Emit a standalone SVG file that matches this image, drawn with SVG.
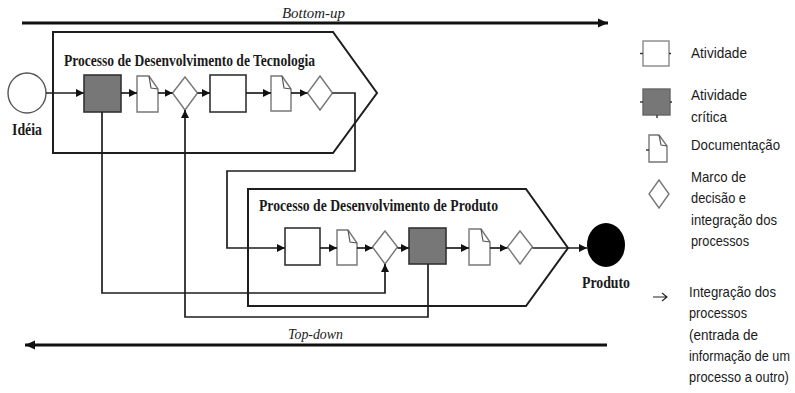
<svg xmlns="http://www.w3.org/2000/svg" width="795" height="393" viewBox="0 0 795 393">
<defs>
<style>
.proc{fill:none;stroke:#1e1e1e;stroke-width:2}
.act{fill:#fff;stroke:#333;stroke-width:1.6}
.crit{fill:#777;stroke:#333;stroke-width:1.6}
.doc{fill:#fff;stroke:#777;stroke-width:1.4}
.fold{fill:none;stroke:#555;stroke-width:1.2}
.dia{fill:#fff;stroke:#777;stroke-width:1.4}
.flow{fill:none;stroke:#1e1e1e;stroke-width:1.7}
.big{fill:none;stroke:#111;stroke-width:2.8}
.title{font-family:"Liberation Serif","Times New Roman",serif;font-weight:bold;font-size:16.5px;fill:#1a1a1a}
.ital{font-family:"Liberation Serif","Times New Roman",serif;font-style:italic;font-size:15px;fill:#222}
.leg{font-family:"Liberation Sans",Arial,sans-serif;font-size:14.5px;fill:#1a1a1a}
.lact{fill:#fff;stroke:#888;stroke-width:1.4}
.lcrit{fill:#777;stroke:#666;stroke-width:1.4}
.tick{stroke:#333;stroke-width:1.4}
</style>
<marker id="ah" viewBox="0 0 10 10" refX="10" refY="5" markerWidth="8" markerHeight="8" markerUnits="userSpaceOnUse" orient="auto">
<path d="M0,0 L10,5 L0,10 Z" fill="#111"/>
</marker>
<marker id="ahb" viewBox="0 0 10 10" refX="10" refY="5" markerWidth="10" markerHeight="10" markerUnits="userSpaceOnUse" orient="auto">
<path d="M0,0.5 L10,5 L0,9.5 Z" fill="#111"/>
</marker>
</defs>

<!-- Bottom-up / Top-down axes -->
<g id="bottom-up">
<line class="big" x1="22" y1="23" x2="608" y2="23" marker-end="url(#ahb)"/>
<text class="ital" x="282" y="18" textLength="63" lengthAdjust="spacingAndGlyphs">Bottom-up</text>
</g>
<g id="top-down">
<line class="big" x1="607" y1="345" x2="25" y2="345" marker-end="url(#ahb)"/>
<text class="ital" x="288" y="339" textLength="55" lengthAdjust="spacingAndGlyphs">Top-down</text>
</g>

<!-- Process containers -->
<g id="proc-tecnologia">
<path class="proc" d="M53,32 H333 L377,93 L333,153 H53 Z"/>
<text class="title" x="64" y="66" textLength="251" lengthAdjust="spacingAndGlyphs">Processo de Desenvolvimento de Tecnologia</text>
</g>
<g id="proc-produto">
<path class="proc" d="M248,189 H526 L568,248 L526,306 H248 Z"/>
<text class="title" x="259" y="211" textLength="239" lengthAdjust="spacingAndGlyphs">Processo de Desenvolvimento de Produto</text>
</g>

<!-- Start / end -->
<g id="ideia">
<ellipse cx="27" cy="93" rx="19" ry="20" fill="#fff" stroke="#555" stroke-width="1.4"/>
<text class="title" x="12" y="135" textLength="30" lengthAdjust="spacingAndGlyphs">Idéia</text>
</g>
<g id="produto">
<ellipse cx="606" cy="245" rx="19" ry="22" fill="#000"/>
<text class="title" x="582" y="288" textLength="48" lengthAdjust="spacingAndGlyphs">Produto</text>
</g>

<!-- Technology process nodes -->
<g id="t-crit"><rect class="crit" x="84" y="75" width="37" height="37"/></g>
<g id="t-doc1"><path class="doc" d="M137,76 H149 L158,89 V112 H137 Z"/><path class="fold" d="M149,76 L151,88 L158,89"/></g>
<g id="t-dia1"><path class="dia" d="M185,77 L197.5,93 L185,110 L172.5,93 Z"/></g>
<g id="t-act"><rect class="act" x="210" y="75" width="36" height="37"/></g>
<g id="t-doc2"><path class="doc" d="M271,76 H282 L291,89 V111 H271 Z"/><path class="fold" d="M282,76 L284,88 L291,89"/></g>
<g id="t-dia2"><path class="dia" d="M320,76 L332.5,93 L320,110 L307.5,93 Z"/></g>

<!-- Product process nodes -->
<g id="p-act"><rect class="act" x="285" y="228" width="35" height="37"/></g>
<g id="p-doc1"><path class="doc" d="M337,230 H348 L357,243 V265 H337 Z"/><path class="fold" d="M348,230 L350,242 L357,243"/></g>
<g id="p-dia1"><path class="dia" d="M385,231 L397.5,247 L385,264 L372.5,247 Z"/></g>
<g id="p-crit"><rect class="crit" x="409" y="228" width="37" height="36"/></g>
<g id="p-doc2"><path class="doc" d="M469,229 H481 L490,242 V265 H469 Z"/><path class="fold" d="M481,229 L483,241 L490,242"/></g>
<g id="p-dia2"><path class="dia" d="M520,231 L532.5,247 L520,264 L507.5,247 Z"/></g>

<!-- Connectors -->
<g id="connectors">
<line class="flow" x1="46" y1="93" x2="84" y2="93" marker-end="url(#ah)"/>
<line class="flow" x1="121" y1="93" x2="137" y2="93" marker-end="url(#ah)"/>
<line class="flow" x1="158" y1="93" x2="172.5" y2="93" marker-end="url(#ah)"/>
<line class="flow" x1="197.5" y1="93" x2="210" y2="93" marker-end="url(#ah)"/>
<line class="flow" x1="246" y1="93" x2="271" y2="93" marker-end="url(#ah)"/>
<line class="flow" x1="291" y1="93" x2="307.5" y2="93" marker-end="url(#ah)"/>
<polyline class="flow" points="332.5,93 355,93 355,171 227,171 227,248 285,248" marker-end="url(#ah)"/>
<line class="flow" x1="320" y1="248" x2="337" y2="248" marker-end="url(#ah)"/>
<line class="flow" x1="357" y1="248" x2="372.5" y2="248" marker-end="url(#ah)"/>
<line class="flow" x1="397.5" y1="248" x2="409" y2="248" marker-end="url(#ah)"/>
<line class="flow" x1="446" y1="248" x2="469" y2="248" marker-end="url(#ah)"/>
<line class="flow" x1="490" y1="248" x2="507.5" y2="248" marker-end="url(#ah)"/>
<polyline class="flow" points="532.5,248 568,248 587,248" marker-end="url(#ah)"/>
<polyline class="flow" points="102,112 102,293 385,293 385,264" marker-end="url(#ah)"/>
<polyline class="flow" points="428,264 428,317 185,317 185,110" marker-end="url(#ah)"/>
</g>

<!-- Legend -->
<g id="legend-atividade">
<rect class="lact" x="643" y="41" width="26" height="25"/>
<line class="tick" x1="640" y1="53.5" x2="643" y2="53.5"/>
<line class="tick" x1="669" y1="53.5" x2="671" y2="53.5"/>
<text class="leg" x="691" y="58" textLength="56" lengthAdjust="spacingAndGlyphs">Atividade</text>
</g>
<g id="legend-critica">
<rect class="lcrit" x="643" y="89" width="27" height="26"/>
<line class="tick" x1="640" y1="102" x2="643" y2="102"/>
<line class="tick" x1="670" y1="102" x2="672" y2="102"/>
<line class="tick" x1="657" y1="115" x2="657" y2="118"/>
<text class="leg" x="691" y="100" textLength="56" lengthAdjust="spacingAndGlyphs">Atividade</text>
<text class="leg" x="691" y="122" textLength="36" lengthAdjust="spacingAndGlyphs">crítica</text>
</g>
<g id="legend-doc">
<path class="doc" d="M649,135 H659 L667,146 V162 H649 Z" stroke="#999"/>
<path class="fold" d="M659,135 L661,145 L667,146" stroke="#888"/>
<line class="tick" x1="646" y1="150" x2="649" y2="150"/>
<text class="leg" x="691" y="150" textLength="89" lengthAdjust="spacingAndGlyphs">Documentação</text>
</g>
<g id="legend-marco">
<path class="dia" d="M659,180 L669,194 L659,208 L649,194 Z" stroke="#888"/>
<text class="leg" x="691" y="182" textLength="55" lengthAdjust="spacingAndGlyphs">Marco de</text>
<text class="leg" x="691" y="203" textLength="55" lengthAdjust="spacingAndGlyphs">decisão e</text>
<text class="leg" x="691" y="225" textLength="86" lengthAdjust="spacingAndGlyphs">integração dos</text>
<text class="leg" x="691" y="246" textLength="58" lengthAdjust="spacingAndGlyphs">processos</text>
</g>
<g id="legend-integracao">
<path d="M653,297 H667 M662,293 L667,297 L662,301" fill="none" stroke="#222" stroke-width="1.1"/>
<text class="leg" x="689" y="297" textLength="87" lengthAdjust="spacingAndGlyphs">Integração dos</text>
<text class="leg" x="689" y="318" textLength="58" lengthAdjust="spacingAndGlyphs">processos</text>
<text class="leg" x="689" y="340" textLength="69" lengthAdjust="spacingAndGlyphs">(entrada de</text>
<text class="leg" transform="translate(689,361) scale(0.87,1)" x="0" y="0">informação de um</text>
<text class="leg" transform="translate(689,382) scale(0.886,1)" x="0" y="0">processo a outro)</text>
</g>
</svg>
